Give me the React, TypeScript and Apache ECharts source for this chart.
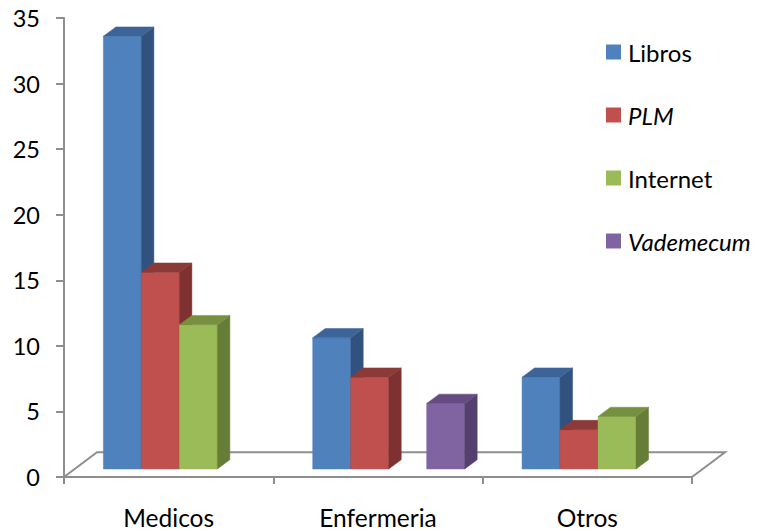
import React, { useEffect, useRef } from "react";
import * as echarts from "echarts";

const categories = ["Medicos", "Enfermeria", "Otros"];
const seriesNames = ["Libros", "PLM", "Internet", "Vademecum"];
const libros = [33, 10, 7];
const plm = [15, 7, 3];
const internet = [11, null, 4];
const vademecum = [null, 5, null];
const italicNames = ["PLM", "Vademecum"];

const faceColors = [
  { front: "#4F81BD", top: "#3D6498", side: "#31527F" },
  { front: "#C0504D", top: "#8B3A38", side: "#7E3130" },
  { front: "#9BBB59", top: "#77903F", side: "#667D38" },
  { front: "#8064A2", top: "#644C80", side: "#54406E" },
];

const DX = 12.5;
const DY = -9.3;
const PX = 10.7;
const PY = -8;
const FLOOR_DX = 33;
const FLOOR_DY = -24.7;
const AXIS_GRAY = "#8e8e8e";

function makeRender(slot: number, c: { front: string; top: string; side: string }) {
  return (params: any, api: any) => {
    const cat = api.value(0);
    const val = api.value(1);
    const base = api.coord([cat, 0]);
    const topPt = api.coord([cat, val]);
    const bandW = api.size([1, 0])[0];
    const barW = bandW * 0.1815;
    const x0 = base[0] - 2 * barW + slot * barW + PX;
    const x1 = x0 + barW;
    const yb = base[1] + PY;
    const yt = topPt[1] + PY;
    return {
      type: "group",
      children: [
        {
          type: "polygon",
          shape: { points: [[x0, yb], [x1, yb], [x1, yt], [x0, yt]] },
          style: { fill: c.front, stroke: c.front, lineWidth: 0.5 },
        },
        {
          type: "polygon",
          shape: { points: [[x1, yb], [x1 + DX, yb + DY], [x1 + DX, yt + DY], [x1, yt]] },
          style: { fill: c.side, stroke: c.side, lineWidth: 0.5 },
        },
        {
          type: "polygon",
          shape: { points: [[x0, yt], [x1, yt], [x1 + DX, yt + DY], [x0 + DX, yt + DY]] },
          style: { fill: c.top, stroke: c.top, lineWidth: 0.5 },
        },
      ],
    };
  };
}

function toData(arr: (number | null)[]) {
  const out: number[][] = [];
  arr.forEach((v, i) => {
    if (v !== null && v !== undefined) out.push([i, v]);
  });
  return out;
}

export default function App() {
  const ref = useRef<HTMLDivElement>(null);
  useEffect(() => {
    document.body.style.margin = "0";
    const chart = echarts.init(ref.current!, null, { renderer: "svg" });
    const allSeries = [libros, plm, internet, vademecum];
    const barSeries = allSeries.map((arr, i) => ({
      type: "custom",
      name: seriesNames[i],
      renderItem: makeRender(i, faceColors[i]),
      itemStyle: { color: faceColors[i].front },
      encode: { x: 0, y: 1 },
      data: toData(arr),
      z: 3,
    }));
    const floorSeries = {
      type: "custom",
      name: "floor",
      silent: true,
      z: 1,
      data: [[0, 0]],
      encode: { x: 0, y: 1 },
      renderItem: (params: any) => {
        const cs = params.coordSys;
        const yF = cs.y + cs.height;
        const xL = cs.x;
        const xR = cs.x + cs.width;
        return {
          type: "polyline",
          shape: {
            points: [
              [xL, yF],
              [xL + FLOOR_DX, yF + FLOOR_DY],
              [xR + FLOOR_DX, yF + FLOOR_DY],
              [xR, yF],
            ],
          },
          style: { stroke: AXIS_GRAY, lineWidth: 2, fill: null },
        };
      },
    };
    chart.setOption({
      animation: false,
      grid: { left: 64, right: 72, top: 18, bottom: 54, containLabel: false },
      legend: {
        orient: "vertical",
        left: 606,
        top: 39,
        padding: 0,
        itemWidth: 15,
        itemHeight: 15,
        itemGap: 37,
        icon: "rect",
        data: seriesNames,
        formatter: (n: string) => (italicNames.includes(n) ? `{i|${n}}` : n),
        textStyle: {
          fontFamily: "Lato",
          fontSize: 24,
          color: "#000",
          lineHeight: 26,
          padding: [0, 0, 0, 2],
          rich: { i: { fontStyle: "italic", fontFamily: "Lato", fontSize: 24, lineHeight: 26, color: "#000" } },
        },
      },
      xAxis: {
        type: "category",
        data: categories,
        boundaryGap: true,
        axisLine: { lineStyle: { color: AXIS_GRAY, width: 2 } },
        axisTick: { show: true, length: 7, lineStyle: { color: AXIS_GRAY, width: 2 } },
        axisLabel: { fontFamily: "Lato", fontSize: 24.5, color: "#000", margin: 28 },
      },
      yAxis: {
        type: "value",
        min: 0,
        max: 35,
        interval: 5,
        splitLine: { show: false },
        axisLine: { show: true, lineStyle: { color: AXIS_GRAY, width: 2 } },
        axisTick: { show: true, length: 8, lineStyle: { color: AXIS_GRAY, width: 2 } },
        axisLabel: { fontFamily: "Lato", fontSize: 23.5, color: "#000", margin: 24 },
      },
      series: [floorSeries, ...barSeries],
    });
    return () => chart.dispose();
  }, []);
  return <div ref={ref} style={{ width: 764, height: 531 }} />;
}
